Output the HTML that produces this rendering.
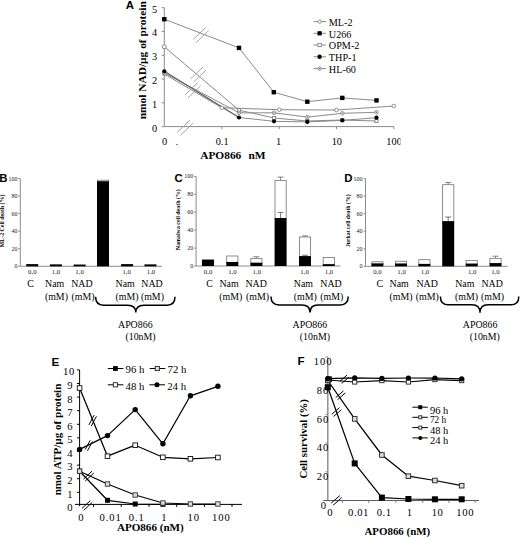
<!DOCTYPE html>
<html><head><meta charset="utf-8"><title>Figure</title>
<style>
html,body{margin:0;padding:0;background:#fff;width:520px;height:537px;overflow:hidden;font-family:"Liberation Serif",serif;}
svg{display:block}
</style></head>
<body>
<svg width="520" height="537" viewBox="0 0 520 537">
<rect width="520" height="537" fill="#fff"/>
<text x="125.8" y="9.4" font-family="'Liberation Sans',sans-serif" font-size="11.4" font-weight="bold" text-anchor="start" fill="#000" >A</text>
<text transform="translate(146.3,60.3) rotate(-90)" font-family="'Liberation Serif',serif" font-size="11.4" font-weight="bold" text-anchor="middle" fill="#000">nmol NAD/µg of protein</text>
<line x1="164.3" y1="7.699999999999989" x2="164.3" y2="126.6" stroke="#8a8a8a" stroke-width="1"/>
<line x1="161.70000000000002" y1="126.6" x2="164.3" y2="126.6" stroke="#8a8a8a" stroke-width="1"/>
<text x="154.5" y="131.6" font-family="'Liberation Serif',serif" font-size="10.3" text-anchor="middle" fill="#000" >0</text>
<line x1="161.70000000000002" y1="102.82" x2="164.3" y2="102.82" stroke="#8a8a8a" stroke-width="1"/>
<text x="154.5" y="107.82" font-family="'Liberation Serif',serif" font-size="10.3" text-anchor="middle" fill="#000" >1</text>
<line x1="161.70000000000002" y1="79.03999999999999" x2="164.3" y2="79.03999999999999" stroke="#8a8a8a" stroke-width="1"/>
<text x="154.5" y="84.03999999999999" font-family="'Liberation Serif',serif" font-size="10.3" text-anchor="middle" fill="#000" >2</text>
<line x1="161.70000000000002" y1="55.25999999999999" x2="164.3" y2="55.25999999999999" stroke="#8a8a8a" stroke-width="1"/>
<text x="154.5" y="60.25999999999999" font-family="'Liberation Serif',serif" font-size="10.3" text-anchor="middle" fill="#000" >3</text>
<line x1="161.70000000000002" y1="31.47999999999999" x2="164.3" y2="31.47999999999999" stroke="#8a8a8a" stroke-width="1"/>
<text x="154.5" y="36.47999999999999" font-family="'Liberation Serif',serif" font-size="10.3" text-anchor="middle" fill="#000" >4</text>
<line x1="161.70000000000002" y1="7.699999999999989" x2="164.3" y2="7.699999999999989" stroke="#8a8a8a" stroke-width="1"/>
<text x="154.5" y="12.699999999999989" font-family="'Liberation Serif',serif" font-size="10.3" text-anchor="middle" fill="#000" >5</text>
<line x1="164.3" y1="126.6" x2="394" y2="126.6" stroke="#8a8a8a" stroke-width="1"/>
<line x1="221.8" y1="126.6" x2="221.8" y2="129.1" stroke="#8a8a8a" stroke-width="1"/>
<line x1="279.3" y1="126.6" x2="279.3" y2="129.1" stroke="#8a8a8a" stroke-width="1"/>
<line x1="336.5" y1="126.6" x2="336.5" y2="129.1" stroke="#8a8a8a" stroke-width="1"/>
<line x1="393.8" y1="126.6" x2="393.8" y2="129.1" stroke="#8a8a8a" stroke-width="1"/>
<clipPath id="ca"><rect x="0" y="0" width="400.5" height="170"/></clipPath>
<g clip-path="url(#ca)">
<text x="164.60000000000002" y="145.4" font-family="'Liberation Serif',serif" font-size="10.3" text-anchor="middle" fill="#000" >0</text>
<text x="222.10000000000002" y="145.4" font-family="'Liberation Serif',serif" font-size="10.3" text-anchor="middle" fill="#000" >0.1</text>
<text x="278.6" y="145.4" font-family="'Liberation Serif',serif" font-size="10.3" text-anchor="middle" fill="#000" >1</text>
<text x="336.8" y="145.4" font-family="'Liberation Serif',serif" font-size="10.3" text-anchor="middle" fill="#000" >10</text>
<text x="394.1" y="145.4" font-family="'Liberation Serif',serif" font-size="10.3" text-anchor="middle" fill="#000" >100</text>
</g>
<text x="177" y="145.4" font-family="'Liberation Serif',serif" font-size="10" text-anchor="middle" fill="#000" >.</text>
<text x="200.2" y="159.3" font-family="'Liberation Serif',serif" font-size="11.4" font-weight="bold" text-anchor="start" fill="#000" >APO866</text>
<text x="265.6" y="159.3" font-family="'Liberation Serif',serif" font-size="11.4" font-weight="bold" text-anchor="end" fill="#000" >nM</text>
<polyline points="164.3,74.0 221.8,107.7 279.3,109.7 336.5,110.0 393.8,106.0" fill="none" stroke="#8a8a8a" stroke-width="1" stroke-linejoin="round"/>
<polyline points="164.3,46.8 239,110.2 274,118.0 307.3,121.0 342.3,120.0 376.5,121.0" fill="none" stroke="#8a8a8a" stroke-width="1" stroke-linejoin="round"/>
<polyline points="164.3,73.0 239,112.8 274,112.8 307.3,117.1 342.3,113.3 376.5,112.3" fill="none" stroke="#8a8a8a" stroke-width="1" stroke-linejoin="round"/>
<polyline points="164.3,71.3 239,117.5 274,121.3 307.3,121.9 342.3,120.4 376.5,117.7" fill="none" stroke="#8a8a8a" stroke-width="1" stroke-linejoin="round"/>
<polyline points="164.3,19.2 239,47.9 273.8,92.2 307.3,101.7 342.3,97.9 376.5,100.4" fill="none" stroke="#8a8a8a" stroke-width="1" stroke-linejoin="round"/>
<polyline points="164.3,71.3 239,117.5" fill="none" stroke="#666" stroke-width="1.1" stroke-linejoin="round"/>
<line x1="193.21" y1="39.53" x2="205.8" y2="27.38" stroke="#9a9a9a" stroke-width="0.9"/>
<line x1="196.2" y1="42.62" x2="208.79" y2="30.47" stroke="#9a9a9a" stroke-width="0.9"/>
<line x1="190.51" y1="79.03" x2="203.1" y2="66.88" stroke="#9a9a9a" stroke-width="0.9"/>
<line x1="193.5" y1="82.12" x2="206.09" y2="69.97" stroke="#9a9a9a" stroke-width="0.9"/>
<line x1="185.11" y1="94.83" x2="197.7" y2="82.68" stroke="#9a9a9a" stroke-width="0.9"/>
<line x1="188.1" y1="97.92" x2="200.69" y2="85.77" stroke="#9a9a9a" stroke-width="0.9"/>
<line x1="177.31" y1="132.33" x2="189.9" y2="120.18" stroke="#9a9a9a" stroke-width="0.9"/>
<line x1="180.3" y1="135.42" x2="192.89" y2="123.27" stroke="#9a9a9a" stroke-width="0.9"/>
<rect x="237.4" y="108.60000000000001" width="3.2" height="3.2" fill="#fff" stroke="#777" stroke-width="0.8"/>
<rect x="272.4" y="116.4" width="3.2" height="3.2" fill="#fff" stroke="#777" stroke-width="0.8"/>
<rect x="305.7" y="119.4" width="3.2" height="3.2" fill="#fff" stroke="#777" stroke-width="0.8"/>
<rect x="340.7" y="118.4" width="3.2" height="3.2" fill="#fff" stroke="#777" stroke-width="0.8"/>
<rect x="374.9" y="119.4" width="3.2" height="3.2" fill="#fff" stroke="#777" stroke-width="0.8"/>
<circle cx="164.3" cy="46.8" r="2.0" fill="#fff" stroke="#777" stroke-width="0.9"/>
<circle cx="164.3" cy="74.0" r="1.7999999999999998" fill="#fff" stroke="#777" stroke-width="0.8"/>
<circle cx="221.8" cy="107.7" r="1.7999999999999998" fill="#fff" stroke="#777" stroke-width="0.8"/>
<circle cx="279.3" cy="109.7" r="1.7999999999999998" fill="#fff" stroke="#777" stroke-width="0.8"/>
<circle cx="336.5" cy="110.0" r="1.7999999999999998" fill="#fff" stroke="#777" stroke-width="0.8"/>
<circle cx="393.8" cy="106.0" r="1.7999999999999998" fill="#fff" stroke="#777" stroke-width="0.8"/>
<circle cx="164.3" cy="73.0" r="1.7999999999999998" fill="#fff" stroke="#777" stroke-width="0.8"/>
<circle cx="164.3" cy="73.0" r="0.8" fill="#777"/>
<circle cx="239" cy="112.8" r="1.7999999999999998" fill="#fff" stroke="#777" stroke-width="0.8"/>
<circle cx="239" cy="112.8" r="0.8" fill="#777"/>
<circle cx="274" cy="112.8" r="1.7999999999999998" fill="#fff" stroke="#777" stroke-width="0.8"/>
<circle cx="274" cy="112.8" r="0.8" fill="#777"/>
<circle cx="307.3" cy="117.1" r="1.7999999999999998" fill="#fff" stroke="#777" stroke-width="0.8"/>
<circle cx="307.3" cy="117.1" r="0.8" fill="#777"/>
<circle cx="342.3" cy="113.3" r="1.7999999999999998" fill="#fff" stroke="#777" stroke-width="0.8"/>
<circle cx="342.3" cy="113.3" r="0.8" fill="#777"/>
<circle cx="376.5" cy="112.3" r="1.7999999999999998" fill="#fff" stroke="#777" stroke-width="0.8"/>
<circle cx="376.5" cy="112.3" r="0.8" fill="#777"/>
<circle cx="164.3" cy="71.3" r="2.1" fill="#000"/>
<circle cx="239" cy="117.5" r="2.1" fill="#000"/>
<circle cx="274" cy="121.3" r="2.1" fill="#000"/>
<circle cx="307.3" cy="121.9" r="2.1" fill="#000"/>
<circle cx="342.3" cy="120.4" r="2.1" fill="#000"/>
<circle cx="376.5" cy="117.7" r="2.1" fill="#000"/>
<rect x="162.10000000000002" y="17.0" width="4.4" height="4.4" fill="#000" stroke="none" stroke-width="1"/>
<rect x="236.8" y="45.699999999999996" width="4.4" height="4.4" fill="#000" stroke="none" stroke-width="1"/>
<rect x="271.6" y="90.0" width="4.4" height="4.4" fill="#000" stroke="none" stroke-width="1"/>
<rect x="305.1" y="99.5" width="4.4" height="4.4" fill="#000" stroke="none" stroke-width="1"/>
<rect x="340.1" y="95.7" width="4.4" height="4.4" fill="#000" stroke="none" stroke-width="1"/>
<rect x="374.3" y="98.2" width="4.4" height="4.4" fill="#000" stroke="none" stroke-width="1"/>
<line x1="313.5" y1="21.6" x2="326" y2="21.6" stroke="#8a8a8a" stroke-width="1"/>
<circle cx="319.6" cy="21.6" r="1.7000000000000002" fill="#fff" stroke="#777" stroke-width="0.8"/>
<text x="328.8" y="25.900000000000002" font-family="'Liberation Serif',serif" font-size="10.2" text-anchor="start" fill="#000" >ML-2</text>
<line x1="313.5" y1="33.3" x2="326" y2="33.3" stroke="#8a8a8a" stroke-width="1"/>
<rect x="317.5" y="31.199999999999996" width="4.2" height="4.2" fill="#000" stroke="none" stroke-width="1"/>
<text x="328.8" y="37.599999999999994" font-family="'Liberation Serif',serif" font-size="10.2" text-anchor="start" fill="#000" >U266</text>
<line x1="313.5" y1="45.0" x2="326" y2="45.0" stroke="#8a8a8a" stroke-width="1"/>
<rect x="317.90000000000003" y="43.3" width="3.4000000000000004" height="3.4000000000000004" fill="#fff" stroke="#777" stroke-width="0.8"/>
<text x="328.8" y="49.3" font-family="'Liberation Serif',serif" font-size="10.2" text-anchor="start" fill="#000" >OPM-2</text>
<line x1="313.5" y1="56.8" x2="326" y2="56.8" stroke="#8a8a8a" stroke-width="1"/>
<circle cx="319.6" cy="56.8" r="2.2" fill="#000"/>
<text x="328.8" y="61.099999999999994" font-family="'Liberation Serif',serif" font-size="10.2" text-anchor="start" fill="#000" >THP-1</text>
<line x1="313.5" y1="68.6" x2="326" y2="68.6" stroke="#8a8a8a" stroke-width="1"/>
<circle cx="319.6" cy="68.6" r="1.7000000000000002" fill="#fff" stroke="#777" stroke-width="0.8"/>
<circle cx="319.6" cy="68.6" r="0.8" fill="#777"/>
<text x="328.8" y="72.89999999999999" font-family="'Liberation Serif',serif" font-size="10.2" text-anchor="start" fill="#000" >HL-60</text>
<text x="-0.8" y="182.3" font-family="'Liberation Sans',sans-serif" font-size="11.4" font-weight="bold" text-anchor="start" fill="#000" >B</text>
<text transform="translate(3.9,220.9) rotate(-90)" font-family="'Liberation Serif',serif" font-size="5.3" font-weight="bold" textLength="52.5" lengthAdjust="spacingAndGlyphs" text-anchor="middle" fill="#000">ML-2 Cell death (%)</text>
<line x1="20.3" y1="178.5" x2="20.3" y2="266.3" stroke="#8c8c8c" stroke-width="1"/>
<line x1="18.3" y1="266.3" x2="20.3" y2="266.3" stroke="#8c8c8c" stroke-width="1"/>
<text x="17.400000000000002" y="268.3" font-family="'Liberation Serif',serif" font-size="6.0" text-anchor="end" fill="#222" >0</text>
<line x1="18.3" y1="248.74" x2="20.3" y2="248.74" stroke="#8c8c8c" stroke-width="1"/>
<text x="17.400000000000002" y="250.74" font-family="'Liberation Serif',serif" font-size="6.0" text-anchor="end" fill="#222" >20</text>
<line x1="18.3" y1="231.18" x2="20.3" y2="231.18" stroke="#8c8c8c" stroke-width="1"/>
<text x="17.400000000000002" y="233.18" font-family="'Liberation Serif',serif" font-size="6.0" text-anchor="end" fill="#222" >40</text>
<line x1="18.3" y1="213.62" x2="20.3" y2="213.62" stroke="#8c8c8c" stroke-width="1"/>
<text x="17.400000000000002" y="215.62" font-family="'Liberation Serif',serif" font-size="6.0" text-anchor="end" fill="#222" >60</text>
<line x1="18.3" y1="196.06" x2="20.3" y2="196.06" stroke="#8c8c8c" stroke-width="1"/>
<text x="17.400000000000002" y="198.06" font-family="'Liberation Serif',serif" font-size="6.0" text-anchor="end" fill="#222" >80</text>
<line x1="18.3" y1="178.5" x2="20.3" y2="178.5" stroke="#8c8c8c" stroke-width="1"/>
<text x="17.400000000000002" y="180.5" font-family="'Liberation Serif',serif" font-size="6.0" text-anchor="end" fill="#222" >100</text>
<line x1="20.3" y1="266.3" x2="161.9" y2="266.3" stroke="#8c8c8c" stroke-width="1"/>
<rect x="26.200000000000003" y="264.105" width="12" height="2.194999999999993" fill="#000" stroke="none" stroke-width="1"/>
<rect x="49.9" y="264.3684" width="12" height="1.931600000000003" fill="#000" stroke="none" stroke-width="1"/>
<rect x="73.6" y="264.544" width="12" height="1.7560000000000286" fill="#000" stroke="none" stroke-width="1"/>
<rect x="97.4" y="180.217" width="11.2" height="1.4925999999999817" fill="#fff" stroke="#7a7a7a" stroke-width="0.85"/>
<rect x="97.0" y="181.3096" width="12" height="84.99040000000002" fill="#000" stroke="none" stroke-width="1"/>
<rect x="121.1" y="264.105" width="12" height="2.194999999999993" fill="#000" stroke="none" stroke-width="1"/>
<rect x="144.45" y="264.3684" width="12" height="1.931600000000003" fill="#000" stroke="none" stroke-width="1"/>
<text x="32.35" y="274.3" font-family="'Liberation Serif',serif" font-size="6.8" text-anchor="middle" fill="#222" >0,0</text>
<text x="56.0" y="274.3" font-family="'Liberation Serif',serif" font-size="6.8" text-anchor="middle" fill="#222" >1,0</text>
<text x="79.6" y="274.3" font-family="'Liberation Serif',serif" font-size="6.8" text-anchor="middle" fill="#222" >1,0</text>
<text x="126.7" y="274.3" font-family="'Liberation Serif',serif" font-size="6.8" text-anchor="middle" fill="#222" >1,0</text>
<text x="151.0" y="274.3" font-family="'Liberation Serif',serif" font-size="6.8" text-anchor="middle" fill="#222" >1,0</text>
<text x="30.5" y="287.4" font-family="'Liberation Serif',serif" font-size="9.9" text-anchor="middle" fill="#000" >C</text>
<text x="54.7" y="287.4" font-family="'Liberation Serif',serif" font-size="9.9" text-anchor="middle" fill="#000" >Nam</text>
<text x="81.9" y="287.4" font-family="'Liberation Serif',serif" font-size="9.9" text-anchor="middle" fill="#000" >NAD</text>
<text x="125.2" y="287.4" font-family="'Liberation Serif',serif" font-size="9.9" text-anchor="middle" fill="#000" >Nam</text>
<text x="152.0" y="287.4" font-family="'Liberation Serif',serif" font-size="9.9" text-anchor="middle" fill="#000" >NAD</text>
<text x="56.4" y="300.2" font-family="'Liberation Serif',serif" font-size="9.9" text-anchor="middle" fill="#000" >(mM)</text>
<text x="83.0" y="300.2" font-family="'Liberation Serif',serif" font-size="9.9" text-anchor="middle" fill="#000" >(mM)</text>
<text x="127.0" y="300.2" font-family="'Liberation Serif',serif" font-size="9.9" text-anchor="middle" fill="#000" >(mM)</text>
<text x="152.4" y="300.2" font-family="'Liberation Serif',serif" font-size="9.9" text-anchor="middle" fill="#000" >(mM)</text>
<path d="M95.6,296.8 Q95.6,305.2 103.6,305.2 L127.80000000000001,305.2 Q135.8,305.2 135.8,312.5 Q135.8,305.2 143.8,305.2 L167.0,305.2 Q175.0,305.2 175.0,296.8" fill="none" stroke="#000" stroke-width="1.5"/>
<text x="135.3" y="328.0" font-family="'Liberation Serif',serif" font-size="9.9" text-anchor="middle" fill="#000" >APO866</text>
<text x="140.5" y="340.0" font-family="'Liberation Serif',serif" font-size="9.9" text-anchor="middle" fill="#000" >(10nM)</text>
<text x="174.6" y="182.1" font-family="'Liberation Sans',sans-serif" font-size="11.4" font-weight="bold" text-anchor="start" fill="#000" >C</text>
<text transform="translate(180.4,219.7) rotate(-90)" font-family="'Liberation Serif',serif" font-size="5.3" font-weight="bold" textLength="60.9" lengthAdjust="spacingAndGlyphs" text-anchor="middle" fill="#000">Namalwa cell death (%)</text>
<line x1="196.1" y1="176.4" x2="196.1" y2="266.0" stroke="#8c8c8c" stroke-width="1"/>
<line x1="194.1" y1="266.0" x2="196.1" y2="266.0" stroke="#8c8c8c" stroke-width="1"/>
<text x="193.2" y="268.0" font-family="'Liberation Serif',serif" font-size="6.0" text-anchor="end" fill="#222" >0</text>
<line x1="194.1" y1="248.08" x2="196.1" y2="248.08" stroke="#8c8c8c" stroke-width="1"/>
<text x="193.2" y="250.08" font-family="'Liberation Serif',serif" font-size="6.0" text-anchor="end" fill="#222" >20</text>
<line x1="194.1" y1="230.16" x2="196.1" y2="230.16" stroke="#8c8c8c" stroke-width="1"/>
<text x="193.2" y="232.16" font-family="'Liberation Serif',serif" font-size="6.0" text-anchor="end" fill="#222" >40</text>
<line x1="194.1" y1="212.24" x2="196.1" y2="212.24" stroke="#8c8c8c" stroke-width="1"/>
<text x="193.2" y="214.24" font-family="'Liberation Serif',serif" font-size="6.0" text-anchor="end" fill="#222" >60</text>
<line x1="194.1" y1="194.32" x2="196.1" y2="194.32" stroke="#8c8c8c" stroke-width="1"/>
<text x="193.2" y="196.32" font-family="'Liberation Serif',serif" font-size="6.0" text-anchor="end" fill="#222" >80</text>
<line x1="194.1" y1="176.4" x2="196.1" y2="176.4" stroke="#8c8c8c" stroke-width="1"/>
<text x="193.2" y="178.4" font-family="'Liberation Serif',serif" font-size="6.0" text-anchor="end" fill="#222" >100</text>
<line x1="196.1" y1="266.0" x2="340.6" y2="266.0" stroke="#8c8c8c" stroke-width="1"/>
<rect x="202.0" y="259.5488" width="12" height="6.451199999999972" fill="#000" stroke="none" stroke-width="1"/>
<rect x="226.70000000000002" y="256.0064" width="11.2" height="6.36160000000001" fill="#fff" stroke="#7a7a7a" stroke-width="0.85"/>
<rect x="226.3" y="261.968" width="12" height="4.031999999999982" fill="#000" stroke="none" stroke-width="1"/>
<rect x="250.79999999999998" y="258.60479999999995" width="11.2" height="4.569600000000037" fill="#fff" stroke="#7a7a7a" stroke-width="0.85"/>
<line x1="256.4" y1="258.2048" x2="256.4" y2="256.7712" stroke="#666" stroke-width="0.8"/>
<line x1="253.39999999999998" y1="256.7712" x2="259.4" y2="256.7712" stroke="#666" stroke-width="0.8"/>
<rect x="250.39999999999998" y="262.7744" width="12" height="3.225599999999986" fill="#000" stroke="none" stroke-width="1"/>
<rect x="275.0" y="180.38400000000001" width="11.2" height="38.08000000000001" fill="#fff" stroke="#7a7a7a" stroke-width="0.85"/>
<line x1="280.6" y1="179.984" x2="280.6" y2="177.1168" stroke="#666" stroke-width="0.8"/>
<line x1="277.6" y1="177.1168" x2="283.6" y2="177.1168" stroke="#666" stroke-width="0.8"/>
<line x1="280.6" y1="218.06400000000002" x2="280.6" y2="212.41920000000002" stroke="#555" stroke-width="0.8"/>
<line x1="277.6" y1="212.41920000000002" x2="283.6" y2="212.41920000000002" stroke="#555" stroke-width="0.8"/>
<rect x="274.6" y="218.06400000000002" width="12" height="47.93599999999998" fill="#000" stroke="none" stroke-width="1"/>
<rect x="299.4" y="237.0112" width="11.2" height="19.53280000000001" fill="#fff" stroke="#7a7a7a" stroke-width="0.85"/>
<line x1="305.0" y1="236.6112" x2="305.0" y2="235.8944" stroke="#666" stroke-width="0.8"/>
<line x1="302.0" y1="235.8944" x2="308.0" y2="235.8944" stroke="#666" stroke-width="0.8"/>
<line x1="305.0" y1="256.144" x2="305.0" y2="255.248" stroke="#555" stroke-width="0.8"/>
<line x1="302.0" y1="255.248" x2="308.0" y2="255.248" stroke="#555" stroke-width="0.8"/>
<rect x="299.0" y="256.144" width="12" height="9.855999999999995" fill="#000" stroke="none" stroke-width="1"/>
<rect x="323.2" y="257.44" width="11.2" height="7.168000000000006" fill="#fff" stroke="#7a7a7a" stroke-width="0.85"/>
<rect x="322.8" y="264.208" width="12" height="1.7919999999999732" fill="#000" stroke="none" stroke-width="1"/>
<text x="208.1" y="274.3" font-family="'Liberation Serif',serif" font-size="6.8" text-anchor="middle" fill="#222" >0,0</text>
<text x="232.4" y="274.3" font-family="'Liberation Serif',serif" font-size="6.8" text-anchor="middle" fill="#222" >1,0</text>
<text x="256.8" y="274.3" font-family="'Liberation Serif',serif" font-size="6.8" text-anchor="middle" fill="#222" >1,0</text>
<text x="304.6" y="274.3" font-family="'Liberation Serif',serif" font-size="6.8" text-anchor="middle" fill="#222" >1,0</text>
<text x="329.0" y="274.3" font-family="'Liberation Serif',serif" font-size="6.8" text-anchor="middle" fill="#222" >1,0</text>
<text x="209.6" y="287.4" font-family="'Liberation Serif',serif" font-size="9.9" text-anchor="middle" fill="#000" >C</text>
<text x="229.0" y="287.4" font-family="'Liberation Serif',serif" font-size="9.9" text-anchor="middle" fill="#000" >Nam</text>
<text x="256.2" y="287.4" font-family="'Liberation Serif',serif" font-size="9.9" text-anchor="middle" fill="#000" >NAD</text>
<text x="303.4" y="287.4" font-family="'Liberation Serif',serif" font-size="9.9" text-anchor="middle" fill="#000" >Nam</text>
<text x="331.0" y="287.4" font-family="'Liberation Serif',serif" font-size="9.9" text-anchor="middle" fill="#000" >NAD</text>
<text x="230.8" y="300.2" font-family="'Liberation Serif',serif" font-size="9.9" text-anchor="middle" fill="#000" >(mM)</text>
<text x="257.5" y="300.2" font-family="'Liberation Serif',serif" font-size="9.9" text-anchor="middle" fill="#000" >(mM)</text>
<text x="305.2" y="300.2" font-family="'Liberation Serif',serif" font-size="9.9" text-anchor="middle" fill="#000" >(mM)</text>
<text x="331.8" y="300.2" font-family="'Liberation Serif',serif" font-size="9.9" text-anchor="middle" fill="#000" >(mM)</text>
<path d="M271.0,296.6 Q271.0,305.0 279.0,305.0 L302.0,305.0 Q310.0,305.0 310.0,312.4 Q310.0,305.0 318.0,305.0 L340.2,305.0 Q348.2,305.0 348.2,296.6" fill="none" stroke="#000" stroke-width="1.5"/>
<text x="309.9" y="328.0" font-family="'Liberation Serif',serif" font-size="9.9" text-anchor="middle" fill="#000" >APO866</text>
<text x="314.9" y="340.2" font-family="'Liberation Serif',serif" font-size="9.9" text-anchor="middle" fill="#000" >(10nM)</text>
<text x="344.2" y="182.1" font-family="'Liberation Sans',sans-serif" font-size="11.4" font-weight="bold" text-anchor="start" fill="#000" >D</text>
<text transform="translate(350.3,220.75) rotate(-90)" font-family="'Liberation Serif',serif" font-size="5.3" font-weight="bold" textLength="52.7" lengthAdjust="spacingAndGlyphs" text-anchor="middle" fill="#000">Jurkat cell death (%)</text>
<line x1="365.5" y1="178.6" x2="365.5" y2="266.3" stroke="#8c8c8c" stroke-width="1"/>
<line x1="363.5" y1="266.3" x2="365.5" y2="266.3" stroke="#8c8c8c" stroke-width="1"/>
<text x="362.6" y="268.3" font-family="'Liberation Serif',serif" font-size="6.0" text-anchor="end" fill="#222" >0</text>
<line x1="363.5" y1="248.76" x2="365.5" y2="248.76" stroke="#8c8c8c" stroke-width="1"/>
<text x="362.6" y="250.76" font-family="'Liberation Serif',serif" font-size="6.0" text-anchor="end" fill="#222" >20</text>
<line x1="363.5" y1="231.22" x2="365.5" y2="231.22" stroke="#8c8c8c" stroke-width="1"/>
<text x="362.6" y="233.22" font-family="'Liberation Serif',serif" font-size="6.0" text-anchor="end" fill="#222" >40</text>
<line x1="363.5" y1="213.68" x2="365.5" y2="213.68" stroke="#8c8c8c" stroke-width="1"/>
<text x="362.6" y="215.68" font-family="'Liberation Serif',serif" font-size="6.0" text-anchor="end" fill="#222" >60</text>
<line x1="363.5" y1="196.14" x2="365.5" y2="196.14" stroke="#8c8c8c" stroke-width="1"/>
<text x="362.6" y="198.14" font-family="'Liberation Serif',serif" font-size="6.0" text-anchor="end" fill="#222" >80</text>
<line x1="363.5" y1="178.6" x2="365.5" y2="178.6" stroke="#8c8c8c" stroke-width="1"/>
<text x="362.6" y="180.6" font-family="'Liberation Serif',serif" font-size="6.0" text-anchor="end" fill="#222" >100</text>
<line x1="365.5" y1="266.3" x2="507.7" y2="266.3" stroke="#8c8c8c" stroke-width="1"/>
<rect x="371.79999999999995" y="261.7888" width="11.2" height="2.1048000000000116" fill="#fff" stroke="#7a7a7a" stroke-width="0.85"/>
<rect x="371.4" y="263.4936" width="12" height="2.8063999999999965" fill="#000" stroke="none" stroke-width="1"/>
<rect x="395.4" y="261.26259999999996" width="11.2" height="2.7187000000000126" fill="#fff" stroke="#7a7a7a" stroke-width="0.85"/>
<rect x="395.0" y="263.5813" width="12" height="2.7187000000000126" fill="#000" stroke="none" stroke-width="1"/>
<rect x="418.79999999999995" y="259.68399999999997" width="11.2" height="4.6480999999999995" fill="#fff" stroke="#7a7a7a" stroke-width="0.85"/>
<rect x="418.4" y="263.9321" width="12" height="2.36790000000002" fill="#000" stroke="none" stroke-width="1"/>
<rect x="442.59999999999997" y="184.7005" width="11.2" height="36.92169999999999" fill="#fff" stroke="#7a7a7a" stroke-width="0.85"/>
<line x1="448.2" y1="184.3005" x2="448.2" y2="182.54649999999998" stroke="#666" stroke-width="0.8"/>
<line x1="445.2" y1="182.54649999999998" x2="451.2" y2="182.54649999999998" stroke="#666" stroke-width="0.8"/>
<line x1="448.2" y1="221.2222" x2="448.2" y2="217.0126" stroke="#555" stroke-width="0.8"/>
<line x1="445.2" y1="217.0126" x2="451.2" y2="217.0126" stroke="#555" stroke-width="0.8"/>
<rect x="442.2" y="221.2222" width="12" height="45.077800000000025" fill="#000" stroke="none" stroke-width="1"/>
<rect x="466.09999999999997" y="260.561" width="11.2" height="3.5079999999999814" fill="#fff" stroke="#7a7a7a" stroke-width="0.85"/>
<rect x="465.7" y="263.669" width="12" height="2.6310000000000286" fill="#000" stroke="none" stroke-width="1"/>
<rect x="489.9" y="258.3685" width="11.2" height="5.1743000000000166" fill="#fff" stroke="#7a7a7a" stroke-width="0.85"/>
<line x1="495.5" y1="257.9685" x2="495.5" y2="256.2145" stroke="#666" stroke-width="0.8"/>
<line x1="492.5" y1="256.2145" x2="498.5" y2="256.2145" stroke="#666" stroke-width="0.8"/>
<rect x="489.5" y="263.1428" width="12" height="3.157199999999989" fill="#000" stroke="none" stroke-width="1"/>
<text x="377.4" y="274.3" font-family="'Liberation Serif',serif" font-size="6.8" text-anchor="middle" fill="#222" >0,0</text>
<text x="401.6" y="274.3" font-family="'Liberation Serif',serif" font-size="6.8" text-anchor="middle" fill="#222" >1,0</text>
<text x="425.0" y="274.3" font-family="'Liberation Serif',serif" font-size="6.8" text-anchor="middle" fill="#222" >1,0</text>
<text x="472.2" y="274.3" font-family="'Liberation Serif',serif" font-size="6.8" text-anchor="middle" fill="#222" >1,0</text>
<text x="495.4" y="274.3" font-family="'Liberation Serif',serif" font-size="6.8" text-anchor="middle" fill="#222" >1,0</text>
<text x="379.9" y="287.4" font-family="'Liberation Serif',serif" font-size="9.9" text-anchor="middle" fill="#000" >C</text>
<text x="399.2" y="287.4" font-family="'Liberation Serif',serif" font-size="9.9" text-anchor="middle" fill="#000" >Nam</text>
<text x="427.2" y="287.4" font-family="'Liberation Serif',serif" font-size="9.9" text-anchor="middle" fill="#000" >NAD</text>
<text x="464.8" y="287.4" font-family="'Liberation Serif',serif" font-size="9.9" text-anchor="middle" fill="#000" >Nam</text>
<text x="492.2" y="287.4" font-family="'Liberation Serif',serif" font-size="9.9" text-anchor="middle" fill="#000" >NAD</text>
<text x="401.0" y="300.2" font-family="'Liberation Serif',serif" font-size="9.9" text-anchor="middle" fill="#000" >(mM)</text>
<text x="427.2" y="300.2" font-family="'Liberation Serif',serif" font-size="9.9" text-anchor="middle" fill="#000" >(mM)</text>
<text x="466.5" y="300.2" font-family="'Liberation Serif',serif" font-size="9.9" text-anchor="middle" fill="#000" >(mM)</text>
<text x="492.6" y="300.2" font-family="'Liberation Serif',serif" font-size="9.9" text-anchor="middle" fill="#000" >(mM)</text>
<path d="M440.4,296.4 Q440.4,304.8 448.4,304.8 L472.0,304.8 Q480.0,304.8 480.0,312.8 Q480.0,304.8 488.0,304.8 L510.79999999999995,304.8 Q518.8,304.8 518.8,296.4" fill="none" stroke="#000" stroke-width="1.5"/>
<text x="480.1" y="327.9" font-family="'Liberation Serif',serif" font-size="9.9" text-anchor="middle" fill="#000" >APO866</text>
<text x="484.8" y="339.9" font-family="'Liberation Serif',serif" font-size="9.9" text-anchor="middle" fill="#000" >(10nM)</text>
<text x="51.6" y="365.6" font-family="'Liberation Sans',sans-serif" font-size="11.6" font-weight="bold" text-anchor="start" fill="#000" >E</text>
<text transform="translate(60.6,439.5) rotate(-90)" font-family="'Liberation Serif',serif" font-size="11.1" font-weight="bold" text-anchor="middle" fill="#000">nmol ATP/µg of protein</text>
<line x1="79.6" y1="369.9" x2="79.6" y2="506.2" stroke="#000" stroke-width="1"/>
<line x1="77.0" y1="492.29999999999995" x2="79.6" y2="492.29999999999995" stroke="#000" stroke-width="1"/>
<line x1="77.0" y1="478.7" x2="79.6" y2="478.7" stroke="#000" stroke-width="1"/>
<line x1="77.0" y1="465.09999999999997" x2="79.6" y2="465.09999999999997" stroke="#000" stroke-width="1"/>
<line x1="77.0" y1="451.5" x2="79.6" y2="451.5" stroke="#000" stroke-width="1"/>
<line x1="77.0" y1="437.9" x2="79.6" y2="437.9" stroke="#000" stroke-width="1"/>
<line x1="77.0" y1="424.29999999999995" x2="79.6" y2="424.29999999999995" stroke="#000" stroke-width="1"/>
<line x1="77.0" y1="410.7" x2="79.6" y2="410.7" stroke="#000" stroke-width="1"/>
<line x1="77.0" y1="397.09999999999997" x2="79.6" y2="397.09999999999997" stroke="#000" stroke-width="1"/>
<line x1="77.0" y1="383.5" x2="79.6" y2="383.5" stroke="#000" stroke-width="1"/>
<line x1="77.0" y1="369.9" x2="79.6" y2="369.9" stroke="#000" stroke-width="1"/>
<text x="70.0" y="511.2" font-family="'Liberation Serif',serif" font-size="10.6" text-anchor="middle" fill="#000" >0</text>
<text x="70.0" y="497.62" font-family="'Liberation Serif',serif" font-size="10.6" text-anchor="middle" fill="#000" >1</text>
<text x="70.0" y="484.03999999999996" font-family="'Liberation Serif',serif" font-size="10.6" text-anchor="middle" fill="#000" >2</text>
<text x="70.0" y="470.46" font-family="'Liberation Serif',serif" font-size="10.6" text-anchor="middle" fill="#000" >3</text>
<text x="70.0" y="456.88" font-family="'Liberation Serif',serif" font-size="10.6" text-anchor="middle" fill="#000" >4</text>
<text x="70.0" y="443.3" font-family="'Liberation Serif',serif" font-size="10.6" text-anchor="middle" fill="#000" >5</text>
<text x="70.0" y="429.71999999999997" font-family="'Liberation Serif',serif" font-size="10.6" text-anchor="middle" fill="#000" >6</text>
<text x="70.0" y="416.14" font-family="'Liberation Serif',serif" font-size="10.6" text-anchor="middle" fill="#000" >7</text>
<text x="70.0" y="402.56" font-family="'Liberation Serif',serif" font-size="10.6" text-anchor="middle" fill="#000" >8</text>
<text x="70.0" y="388.97999999999996" font-family="'Liberation Serif',serif" font-size="10.6" text-anchor="middle" fill="#000" >9</text>
<text x="69.1" y="375.4" font-family="'Liberation Serif',serif" font-size="10.6" text-anchor="middle" fill="#000" letter-spacing="0.9">10</text>
<line x1="75.0" y1="504.4" x2="242" y2="504.4" stroke="#000" stroke-width="1"/>
<line x1="93.5" y1="504.4" x2="93.5" y2="506.9" stroke="#000" stroke-width="1"/>
<line x1="121.2" y1="504.4" x2="121.2" y2="506.9" stroke="#000" stroke-width="1"/>
<line x1="149.0" y1="504.4" x2="149.0" y2="506.9" stroke="#000" stroke-width="1"/>
<line x1="176.7" y1="504.4" x2="176.7" y2="506.9" stroke="#000" stroke-width="1"/>
<line x1="204.4" y1="504.4" x2="204.4" y2="506.9" stroke="#000" stroke-width="1"/>
<line x1="232.0" y1="504.4" x2="232.0" y2="506.9" stroke="#000" stroke-width="1"/>
<text x="81.25" y="520.6" font-family="'Liberation Serif',serif" font-size="10.6" text-anchor="middle" fill="#000" letter-spacing="0.9">0</text>
<text x="110.65" y="520.6" font-family="'Liberation Serif',serif" font-size="10.6" text-anchor="middle" fill="#000" letter-spacing="0.9">0.01</text>
<text x="136.85" y="520.6" font-family="'Liberation Serif',serif" font-size="10.6" text-anchor="middle" fill="#000" letter-spacing="0.9">0.1</text>
<text x="164.45" y="520.6" font-family="'Liberation Serif',serif" font-size="10.6" text-anchor="middle" fill="#000" letter-spacing="0.9">1</text>
<text x="193.64999999999998" y="520.6" font-family="'Liberation Serif',serif" font-size="10.6" text-anchor="middle" fill="#000" letter-spacing="0.9">10</text>
<text x="221.35" y="520.6" font-family="'Liberation Serif',serif" font-size="10.6" text-anchor="middle" fill="#000" letter-spacing="0.9">100</text>
<text x="150.35" y="531.1" font-family="'Liberation Serif',serif" font-size="11.1" font-weight="bold" text-anchor="middle" fill="#000" >APO866 (nM)</text>
<polyline points="79.6,449.4 107.5,435.6 135.2,409.6 162.9,443.8 190.4,395.8 217.9,386.3" fill="none" stroke="#000" stroke-width="1.25" stroke-linejoin="round"/>
<polyline points="79.6,388.0 107.5,456.2 135.2,445.2 162.9,457.3 190.4,458.8 217.9,457.5" fill="none" stroke="#000" stroke-width="1.25" stroke-linejoin="round"/>
<polyline points="79.6,471.2 107.5,484.0 135.2,495.0 162.9,503.0 190.4,504.0 217.9,504.0" fill="none" stroke="#000" stroke-width="1.25" stroke-linejoin="round"/>
<polyline points="79.6,471.2 107.5,500.3 135.2,504.0 162.9,504.3" fill="none" stroke="#000" stroke-width="1.25" stroke-linejoin="round"/>
<line x1="88.97" y1="424.85" x2="94.13" y2="415.13" stroke="#000" stroke-width="1.0"/>
<line x1="91.27" y1="426.07" x2="96.43" y2="416.35" stroke="#000" stroke-width="1.0"/>
<line x1="85.24" y1="449.53" x2="90.17" y2="440.25" stroke="#000" stroke-width="1.0"/>
<line x1="87.53" y1="450.75" x2="92.46" y2="441.47" stroke="#000" stroke-width="1.0"/>
<line x1="83.43" y1="479.14" x2="91.99" y2="471.16" stroke="#000" stroke-width="1.0"/>
<line x1="85.21" y1="481.04" x2="93.77" y2="473.06" stroke="#000" stroke-width="1.0"/>
<line x1="82.01" y1="508.37" x2="90.42" y2="500.53" stroke="#000" stroke-width="1.0"/>
<line x1="83.78" y1="510.27" x2="92.19" y2="502.43" stroke="#000" stroke-width="1.0"/>
<rect x="77.1" y="468.7" width="5" height="5" fill="#000" stroke="none" stroke-width="1"/>
<rect x="105.0" y="497.8" width="5" height="5" fill="#000" stroke="none" stroke-width="1"/>
<rect x="132.7" y="501.5" width="5" height="5" fill="#000" stroke="none" stroke-width="1"/>
<rect x="160.4" y="501.8" width="5" height="5" fill="#000" stroke="none" stroke-width="1"/>
<rect x="77.39999999999999" y="469.0" width="4.4" height="4.4" fill="#ddd" stroke="#333" stroke-width="0.9"/>
<rect x="105.3" y="481.8" width="4.4" height="4.4" fill="#ddd" stroke="#333" stroke-width="0.9"/>
<rect x="133.0" y="492.8" width="4.4" height="4.4" fill="#ddd" stroke="#333" stroke-width="0.9"/>
<rect x="160.70000000000002" y="500.8" width="4.4" height="4.4" fill="#ddd" stroke="#333" stroke-width="0.9"/>
<rect x="188.20000000000002" y="501.8" width="4.4" height="4.4" fill="#ddd" stroke="#333" stroke-width="0.9"/>
<rect x="215.70000000000002" y="501.8" width="4.4" height="4.4" fill="#ddd" stroke="#333" stroke-width="0.9"/>
<rect x="77.3" y="385.7" width="4.6" height="4.6" fill="#fff" stroke="#111" stroke-width="0.9"/>
<rect x="105.2" y="453.9" width="4.6" height="4.6" fill="#fff" stroke="#111" stroke-width="0.9"/>
<rect x="132.89999999999998" y="442.9" width="4.6" height="4.6" fill="#fff" stroke="#111" stroke-width="0.9"/>
<rect x="160.6" y="455.0" width="4.6" height="4.6" fill="#fff" stroke="#111" stroke-width="0.9"/>
<rect x="188.1" y="456.5" width="4.6" height="4.6" fill="#fff" stroke="#111" stroke-width="0.9"/>
<rect x="215.6" y="455.2" width="4.6" height="4.6" fill="#fff" stroke="#111" stroke-width="0.9"/>
<circle cx="79.6" cy="449.4" r="2.7" fill="#000"/>
<circle cx="107.5" cy="435.6" r="2.7" fill="#000"/>
<circle cx="135.2" cy="409.6" r="2.7" fill="#000"/>
<circle cx="162.9" cy="443.8" r="2.7" fill="#000"/>
<circle cx="190.4" cy="395.8" r="2.7" fill="#000"/>
<circle cx="217.9" cy="386.3" r="2.7" fill="#000"/>
<line x1="107.80000000000001" y1="368.5" x2="123.4" y2="368.5" stroke="#000" stroke-width="1"/>
<rect x="113.0" y="366.1" width="4.8" height="4.8" fill="#000" stroke="none" stroke-width="1"/>
<text x="125.60000000000001" y="373.2" font-family="'Liberation Serif',serif" font-size="10.8" text-anchor="start" fill="#000" >96 h</text>
<line x1="149.70000000000002" y1="368.5" x2="165.3" y2="368.5" stroke="#000" stroke-width="1"/>
<rect x="155.20000000000002" y="366.4" width="4.2" height="4.2" fill="#ddd" stroke="#222" stroke-width="0.9"/>
<text x="167.5" y="373.2" font-family="'Liberation Serif',serif" font-size="10.8" text-anchor="start" fill="#000" >72 h</text>
<line x1="107.80000000000001" y1="384.8" x2="123.4" y2="384.8" stroke="#000" stroke-width="1"/>
<rect x="113.30000000000001" y="382.7" width="4.2" height="4.2" fill="#fff" stroke="#222" stroke-width="0.9"/>
<text x="125.60000000000001" y="389.5" font-family="'Liberation Serif',serif" font-size="10.8" text-anchor="start" fill="#000" >48 h</text>
<line x1="149.4" y1="384.8" x2="165.0" y2="384.8" stroke="#000" stroke-width="1"/>
<circle cx="157.0" cy="384.8" r="2.5" fill="#000"/>
<text x="167.2" y="389.5" font-family="'Liberation Serif',serif" font-size="10.8" text-anchor="start" fill="#000" >24 h</text>
<text x="297.6" y="365.2" font-family="'Liberation Sans',sans-serif" font-size="11.6" font-weight="bold" text-anchor="start" fill="#000" >F</text>
<text transform="translate(307.0,438.8) rotate(-90)" font-family="'Liberation Serif',serif" font-size="10.85" font-weight="bold" text-anchor="middle" fill="#000">Cell survival (%)</text>
<line x1="327.8" y1="357.2" x2="327.8" y2="500.5" stroke="#8a8a8a" stroke-width="1.4"/>
<line x1="325.6" y1="500.5" x2="327.8" y2="500.5" stroke="#8a8a8a" stroke-width="1"/>
<text x="324.0" y="508.8" font-family="'Liberation Serif',serif" font-size="10.6" text-anchor="middle" fill="#000" letter-spacing="1.0">0</text>
<line x1="325.6" y1="471.8" x2="327.8" y2="471.8" stroke="#8a8a8a" stroke-width="1"/>
<text x="323.1" y="480.1" font-family="'Liberation Serif',serif" font-size="10.6" text-anchor="middle" fill="#000" letter-spacing="1.0">20</text>
<line x1="325.6" y1="443.1" x2="327.8" y2="443.1" stroke="#8a8a8a" stroke-width="1"/>
<text x="323.1" y="451.40000000000003" font-family="'Liberation Serif',serif" font-size="10.6" text-anchor="middle" fill="#000" letter-spacing="1.0">40</text>
<line x1="325.6" y1="414.4" x2="327.8" y2="414.4" stroke="#8a8a8a" stroke-width="1"/>
<text x="323.1" y="422.7" font-family="'Liberation Serif',serif" font-size="10.6" text-anchor="middle" fill="#000" letter-spacing="1.0">60</text>
<line x1="325.6" y1="385.7" x2="327.8" y2="385.7" stroke="#8a8a8a" stroke-width="1"/>
<text x="323.1" y="394.0" font-family="'Liberation Serif',serif" font-size="10.6" text-anchor="middle" fill="#000" letter-spacing="1.0">80</text>
<line x1="325.6" y1="357.0" x2="327.8" y2="357.0" stroke="#8a8a8a" stroke-width="1"/>
<text x="323.1" y="365.3" font-family="'Liberation Serif',serif" font-size="10.6" text-anchor="middle" fill="#000" letter-spacing="1.0">100</text>
<line x1="323.2" y1="500.5" x2="479" y2="500.5" stroke="#5a5a5a" stroke-width="1.2"/>
<line x1="342.5" y1="500.5" x2="342.5" y2="502.8" stroke="#777" stroke-width="1"/>
<line x1="368.8" y1="500.5" x2="368.8" y2="502.8" stroke="#777" stroke-width="1"/>
<line x1="395.8" y1="500.5" x2="395.8" y2="502.8" stroke="#777" stroke-width="1"/>
<line x1="422.8" y1="500.5" x2="422.8" y2="502.8" stroke="#777" stroke-width="1"/>
<line x1="448.9" y1="500.5" x2="448.9" y2="502.8" stroke="#777" stroke-width="1"/>
<line x1="475.1" y1="500.5" x2="475.1" y2="502.8" stroke="#777" stroke-width="1"/>
<text x="330.15000000000003" y="515.9" font-family="'Liberation Serif',serif" font-size="10.6" text-anchor="middle" fill="#000" letter-spacing="0.6">0</text>
<text x="358.5" y="515.9" font-family="'Liberation Serif',serif" font-size="10.6" text-anchor="middle" fill="#000" letter-spacing="0.6">0.01</text>
<text x="384.2" y="515.9" font-family="'Liberation Serif',serif" font-size="10.6" text-anchor="middle" fill="#000" letter-spacing="0.6">0.1</text>
<text x="409.8" y="515.9" font-family="'Liberation Serif',serif" font-size="10.6" text-anchor="middle" fill="#000" letter-spacing="0.6">1</text>
<text x="437.6" y="515.9" font-family="'Liberation Serif',serif" font-size="10.6" text-anchor="middle" fill="#000" letter-spacing="0.6">10</text>
<text x="465.2" y="515.9" font-family="'Liberation Serif',serif" font-size="10.6" text-anchor="middle" fill="#000" letter-spacing="0.6">100</text>
<text x="397.3" y="534.6" font-family="'Liberation Serif',serif" font-size="10.9" font-weight="bold" text-anchor="middle" fill="#000" >APO866 (nM)</text>
<polyline points="327.8,380.5 354.7,418.9 381.9,455.0 408.4,476.2 434.9,480.5 461.7,485.7" fill="none" stroke="#000" stroke-width="1.25" stroke-linejoin="round"/>
<polyline points="327.8,387.2 354.7,463.4 381.9,497.6 408.4,499.0 434.9,499.3 461.7,499.3" fill="none" stroke="#000" stroke-width="1.25" stroke-linejoin="round"/>
<polyline points="327.8,380.0 354.7,382.0 381.9,380.6 408.4,382.0 434.9,379.6 461.7,380.6" fill="none" stroke="#000" stroke-width="1.25" stroke-linejoin="round"/>
<polyline points="327.8,378.6 354.7,377.9 381.9,378.4 408.4,378.0 434.9,378.0 461.7,378.8" fill="none" stroke="#000" stroke-width="1.25" stroke-linejoin="round"/>
<line x1="339.8" y1="381.36" x2="346.97" y2="375.13" stroke="#000" stroke-width="1.0"/>
<line x1="341.63" y1="383.47" x2="348.8" y2="377.24" stroke="#000" stroke-width="1.0"/>
<line x1="335.69" y1="397.62" x2="343.47" y2="390.86" stroke="#000" stroke-width="1.0"/>
<line x1="337.53" y1="399.74" x2="345.31" y2="392.98" stroke="#000" stroke-width="1.0"/>
<line x1="331.79" y1="414.32" x2="339.57" y2="407.56" stroke="#000" stroke-width="1.0"/>
<line x1="333.63" y1="416.44" x2="341.41" y2="409.68" stroke="#000" stroke-width="1.0"/>
<line x1="331.24" y1="503.12" x2="339.92" y2="495.57" stroke="#000" stroke-width="1.0"/>
<line x1="333.08" y1="505.23" x2="341.76" y2="497.68" stroke="#000" stroke-width="1.0"/>
<rect x="326.0" y="376.3" width="5.8" height="5.8" fill="#000" stroke="none" stroke-width="1"/>
<rect x="325.5" y="378.2" width="4.6" height="4.6" fill="#ddd" stroke="#222" stroke-width="0.9"/>
<rect x="352.4" y="416.59999999999997" width="4.6" height="4.6" fill="#ddd" stroke="#222" stroke-width="0.9"/>
<rect x="379.59999999999997" y="452.7" width="4.6" height="4.6" fill="#ddd" stroke="#222" stroke-width="0.9"/>
<rect x="406.09999999999997" y="473.9" width="4.6" height="4.6" fill="#ddd" stroke="#222" stroke-width="0.9"/>
<rect x="432.59999999999997" y="478.2" width="4.6" height="4.6" fill="#ddd" stroke="#222" stroke-width="0.9"/>
<rect x="459.4" y="483.4" width="4.6" height="4.6" fill="#ddd" stroke="#222" stroke-width="0.9"/>
<rect x="324.8" y="384.2" width="6.0" height="6.0" fill="#000" stroke="none" stroke-width="1"/>
<rect x="351.7" y="460.4" width="6.0" height="6.0" fill="#000" stroke="none" stroke-width="1"/>
<rect x="378.9" y="494.6" width="6.0" height="6.0" fill="#000" stroke="none" stroke-width="1"/>
<rect x="405.4" y="496.0" width="6.0" height="6.0" fill="#000" stroke="none" stroke-width="1"/>
<rect x="431.9" y="496.3" width="6.0" height="6.0" fill="#000" stroke="none" stroke-width="1"/>
<rect x="458.7" y="496.3" width="6.0" height="6.0" fill="#000" stroke="none" stroke-width="1"/>
<rect x="325.7" y="377.9" width="4.2" height="4.2" fill="#fff" stroke="#222" stroke-width="0.9"/>
<rect x="352.59999999999997" y="379.9" width="4.2" height="4.2" fill="#fff" stroke="#222" stroke-width="0.9"/>
<rect x="379.79999999999995" y="378.5" width="4.2" height="4.2" fill="#fff" stroke="#222" stroke-width="0.9"/>
<rect x="406.29999999999995" y="379.9" width="4.2" height="4.2" fill="#fff" stroke="#222" stroke-width="0.9"/>
<rect x="432.79999999999995" y="377.5" width="4.2" height="4.2" fill="#fff" stroke="#222" stroke-width="0.9"/>
<rect x="459.59999999999997" y="378.5" width="4.2" height="4.2" fill="#fff" stroke="#222" stroke-width="0.9"/>
<circle cx="327.8" cy="378.6" r="2.6" fill="#000"/>
<circle cx="354.7" cy="377.9" r="2.6" fill="#000"/>
<circle cx="381.9" cy="378.4" r="2.6" fill="#000"/>
<circle cx="408.4" cy="378.0" r="2.6" fill="#000"/>
<circle cx="434.9" cy="378.0" r="2.6" fill="#000"/>
<circle cx="461.7" cy="378.8" r="2.6" fill="#000"/>
<line x1="412.4" y1="407.2" x2="427.8" y2="407.2" stroke="#000" stroke-width="1"/>
<rect x="418.3" y="405.2" width="4.0" height="4.0" fill="#000" stroke="none" stroke-width="1"/>
<text x="429.9" y="413.5" font-family="'Liberation Serif',serif" font-size="10.5" text-anchor="start" fill="#000" >96 h</text>
<line x1="412.4" y1="417.3" x2="427.8" y2="417.3" stroke="#000" stroke-width="1"/>
<rect x="418.8" y="415.8" width="3.0" height="3.0" fill="#fff" stroke="#222" stroke-width="0.9"/>
<text x="429.9" y="422.6" font-family="'Liberation Serif',serif" font-size="9.3" text-anchor="start" fill="#000" >72 h</text>
<line x1="412.4" y1="427.6" x2="427.8" y2="427.6" stroke="#000" stroke-width="1"/>
<rect x="418.8" y="426.1" width="3.0" height="3.0" fill="#fff" stroke="#222" stroke-width="0.9"/>
<text x="429.9" y="433.90000000000003" font-family="'Liberation Serif',serif" font-size="10.5" text-anchor="start" fill="#000" >48 h</text>
<line x1="412.4" y1="437.9" x2="427.8" y2="437.9" stroke="#000" stroke-width="1"/>
<circle cx="420.3" cy="437.9" r="2.0" fill="#000"/>
<text x="429.9" y="444.2" font-family="'Liberation Serif',serif" font-size="10.5" text-anchor="start" fill="#000" >24 h</text>
</svg>
</body></html>
